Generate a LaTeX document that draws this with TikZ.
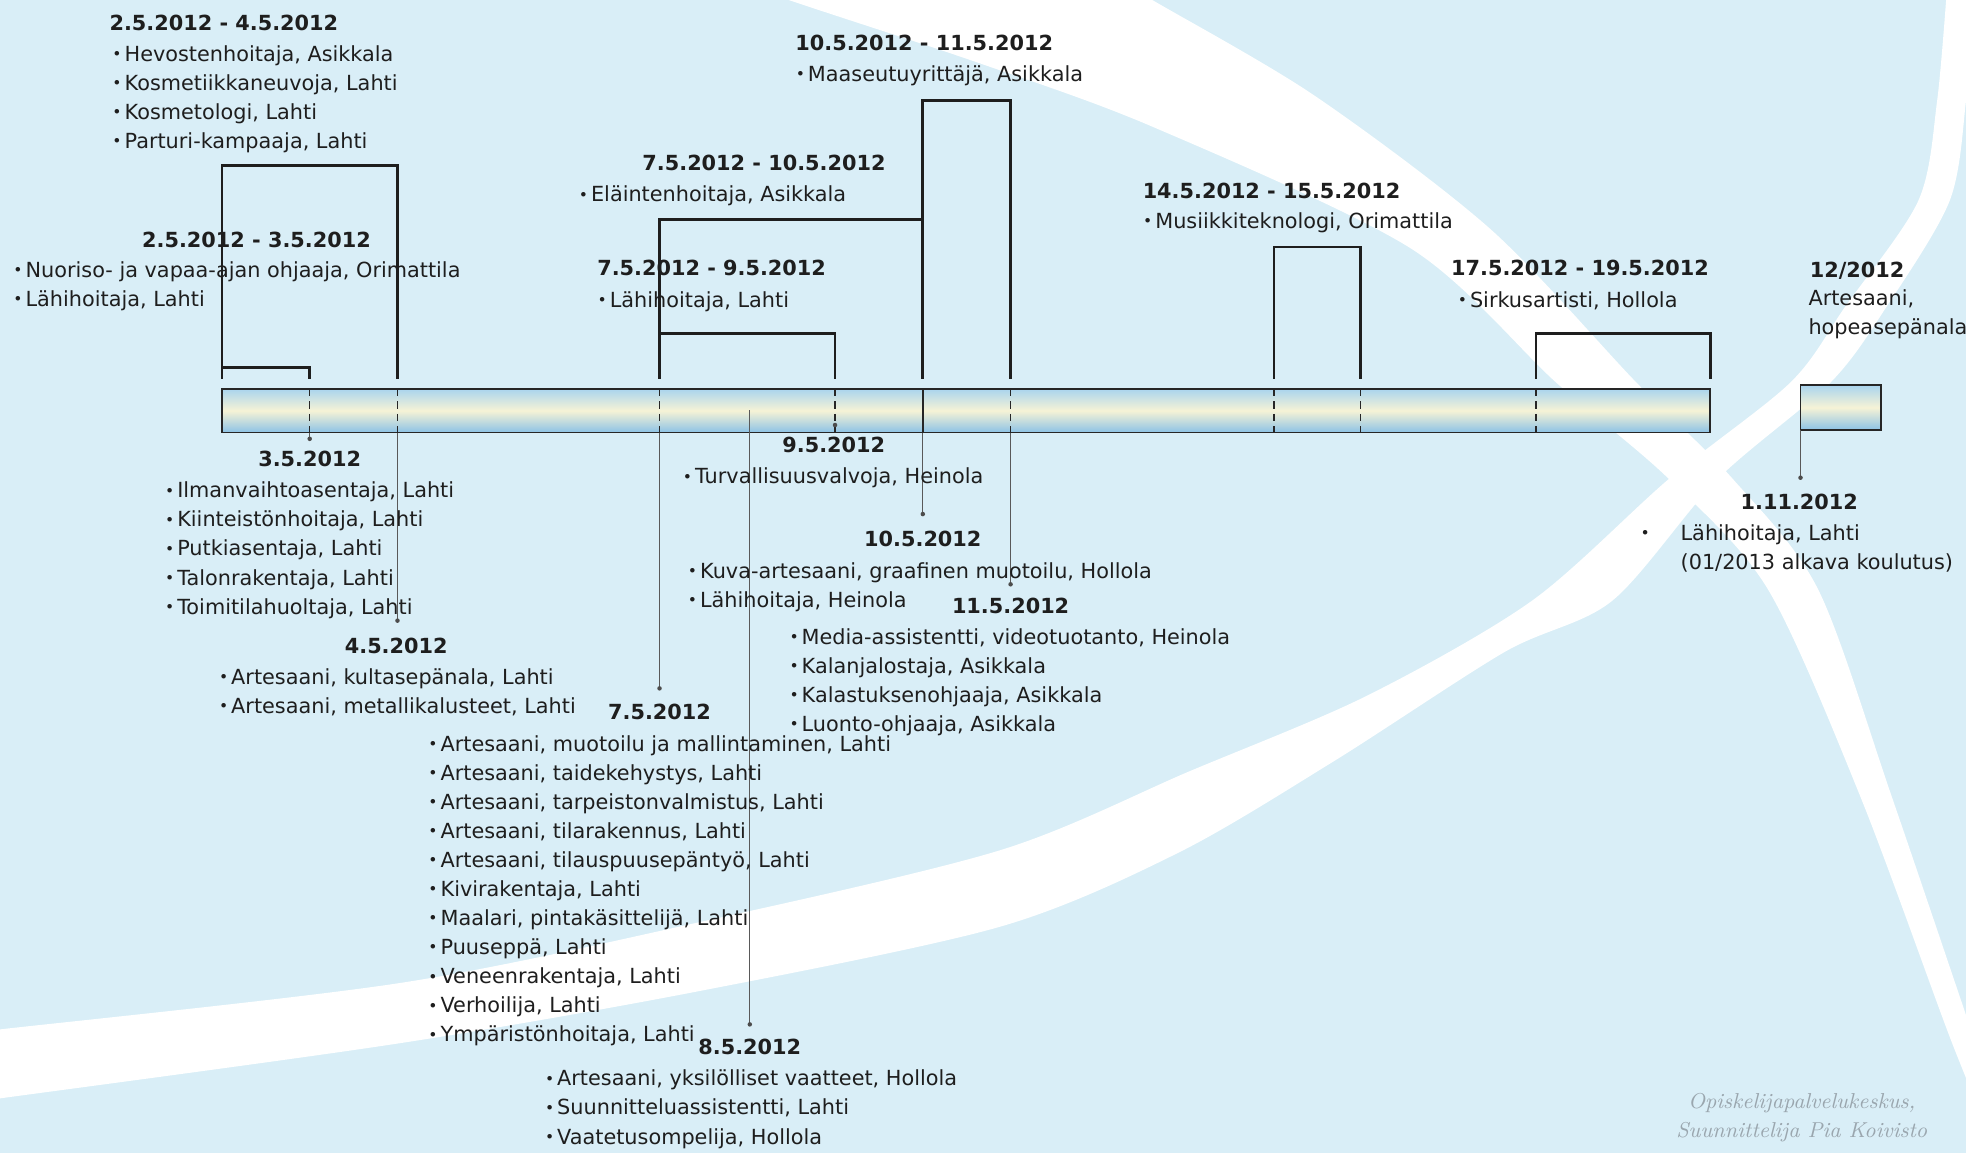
\documentclass[tikz,border=0pt]{standalone}
\usepackage{fontspec}
\newfontfamily\dv{DejaVu Sans}
\definecolor{bgblue}{HTML}{D9EEF7}
\definecolor{bartop}{HTML}{A9D4EE}
\definecolor{barmid}{HTML}{F6F3D6}
\definecolor{barbot}{HTML}{8CC2E6}
\definecolor{ink}{HTML}{1E1E1E}
\definecolor{wmgray}{HTML}{9AA6AE}
\newcommand\bul{\raisebox{0.7pt}{\fontsize{6.2}{6}\selectfont•}}
\newcommand\blist[4]{%
  \foreach \t [count=\i] in {#4} {
    \node[txt] (#1-\i) at (#2,{#3+(\i-1)*23.2}) {\llap{\bul\hspace{1.2pt}}\t};
  }%
}
\begin{document}
\begin{tikzpicture}[x=0.5pt,y=-0.5pt,
  txt/.style={font=\dv\fontsize{8.3}{10}\selectfont, inner sep=0pt, anchor=base west, text=ink},
  hdr/.style={font=\dv\bfseries\fontsize{8.3}{10}\selectfont, inner sep=0pt, anchor=base west, text=ink},
  hdrc/.style={hdr, anchor=base},
  brk/.style={line width=1.1pt, draw=ink},
  conn/.style={line width=0.35pt, draw=black!65},
  tick/.style={line width=0.5pt, draw=black!85, dash pattern=on 3pt off 2pt},
  solidtick/.style={line width=0.6pt, draw=black!85},
  endpt/.style={fill=black!70},
  barbox/.style={draw=black!85, line width=0.7pt, top color=bartop, bottom color=barbot, middle color=barmid, inner sep=0pt, outer sep=0pt},
  wm/.style={font=\itshape\fontsize{8.6}{10}\selectfont, text=wmgray, inner sep=0pt, anchor=base}
  ]
\useasboundingbox (0,0) rectangle (1568,919.6);
\fill[bgblue] (0,0) rectangle (1568,919.6);
% background swooshes
\begin{scope}
\clip (0,0) rectangle (1568,919.6);
\fill[white] plot[smooth] coordinates {(600,-12) (629,0) (780,50) (919,101) (1125,198) (1241,305) (1331,382) (1410,470) (1484,636) (1555,827) (1585,900)}
  -- plot[smooth] coordinates {(1585,860) (1509,636) (1450,470) (1382,382) (1305,305) (1189,183) (1048,76) (919,0) (900,-12)} -- cycle;
\fill[white] plot[smooth] coordinates {(1553,-12) (1545,80) (1530,160) (1472,244) (1428,305) (1331,382) (1222,479) (1090,555) (949,615) (798,678) (560,735) (319,784) (0,821) (-20,823)}
  -- plot[smooth] coordinates {(-20,878) (0,876) (319,832) (560,790) (798,739) (940,680) (1064,607) (1200,520) (1286,479) (1370,382) (1460,305) (1505,244) (1555,160) (1568,80) (1575,-12)} -- cycle;
\end{scope}

% timeline bar and small box
\node[barbox, minimum width=593.5pt, minimum height=17.5pt] (bar) at (770.5,327.5) {};
\node[barbox, minimum width=32pt, minimum height=18pt] (nov) at (1468,325) {};

% ticks inside the bar
\foreach \x/\n in {247/d3,317/d4,526/d7,666/d9,806/d11,1016/d14,1085/d15,1225/d17}
  \draw[tick] (\x,310) coordinate (\n top) -- (\x,345) coordinate (\n bot);
\draw[solidtick] (736,310) coordinate (d10top) -- (736,345) coordinate (d10bot);
\coordinate (d8mid) at (598,327);

% brackets above the bar
\draw[brk] (177,302) |- (247,293) -- (247,302);
\draw[brk] (177,302) |- (317,132) -- (317,302);
\draw[brk] (526,302) |- (666,266) -- (666,302);
\draw[brk] (526,302) |- (736,175);
\draw[brk] (736,302) |- (806,80) -- (806,302);
\draw[brk] (1016,302) |- (1085,197) -- (1085,302);
\draw[brk] (1225,302) |- (1364,266) -- (1364,302);

% connectors below the bar
\coordinate (e3) at (247,350);
\coordinate (e4) at (317,495);
\coordinate (e7) at (526,549);
\coordinate (e8) at (598,817);
\coordinate (e9) at (666,339);
\coordinate (e10) at (736,410);
\coordinate (e11) at (806,466);
\coordinate (e111) at (1436,381);
\draw[conn] (d3bot) -- (e3);
\draw[conn] (d4bot) -- (e4);
\draw[conn] (d7bot) -- (e7);
\draw[conn] (d8mid) -- (e8);
\draw[conn] (d10bot) -- (e10);
\draw[conn] (d11bot) -- (e11);
\draw[conn] (nov.south west) -- (e111);
\foreach \e in {e3,e4,e7,e8,e9,e10,e11,e111}
  \fill[endpt] (\e) circle[radius=0.9pt];

% labels above the bar
\node[hdr] (h1) at (87,24) {2.5.2012 - 4.5.2012};
\blist{h1i}{99}{49}{{Hevostenhoitaja, Asikkala},{Kosmetiikkaneuvoja, Lahti},{Kosmetologi, Lahti},{Parturi-kampaaja, Lahti}}
\node[hdr] (h2) at (113,197) {2.5.2012 - 3.5.2012};
\blist{h2i}{20}{221}{{Nuoriso- ja vapaa-ajan ohjaaja, Orimattila},{Lähihoitaja, Lahti}}
\node[hdr] (h3) at (634,40) {10.5.2012 - 11.5.2012};
\blist{h3i}{644}{65}{{Maaseutuyrittäjä, Asikkala}}
\node[hdr] (h4) at (512,136) {7.5.2012 - 10.5.2012};
\blist{h4i}{471}{161}{{Eläintenhoitaja, Asikkala}}
\node[hdr] (h5) at (476,220) {7.5.2012 - 9.5.2012};
\blist{h5i}{486}{245}{{Lähihoitaja, Lahti}}
\node[hdr] (h6) at (911,158) {14.5.2012 - 15.5.2012};
\blist{h6i}{921}{182}{{Musiikkiteknologi, Orimattila}}
\node[hdr] (h7) at (1157,220) {17.5.2012 - 19.5.2012};
\blist{h7i}{1172}{245}{{Sirkusartisti, Hollola}}
\node[hdr] (h8) at (1443,221) {12/2012};
\node[txt] (h8a) at (1442,244) {Artesaani,};
\node[txt] (h8b) at (1442,267) {hopeasepänala};

% labels below the bar
\node[hdrc] (l3) at (247,372) {3.5.2012};
\blist{l3i}{141}{397}{{Ilmanvaihtoasentaja, Lahti},{Kiinteistönhoitaja, Lahti},{Putkiasentaja, Lahti},{Talonrakentaja, Lahti},{Toimitilahuoltaja, Lahti}}
\node[hdrc] (l4) at (316,521) {4.5.2012};
\blist{l4i}{184}{546}{{Artesaani, kultasepänala, Lahti},{Artesaani, metallikalusteet, Lahti}}
\node[hdrc] (l7) at (526,574) {7.5.2012};
\blist{l7i}{351}{599}{{Artesaani, muotoilu ja mallintaminen, Lahti},{Artesaani, taidekehystys, Lahti},{Artesaani, tarpeistonvalmistus, Lahti},{Artesaani, tilarakennus, Lahti},{Artesaani, tilauspuusepäntyö, Lahti},{Kivirakentaja, Lahti},{Maalari, pintakäsittelijä, Lahti},{Puuseppä, Lahti},{Veneenrakentaja, Lahti},{Verhoilija, Lahti},{Ympäristönhoitaja, Lahti}}
\node[hdrc] (l8) at (598,841) {8.5.2012};
\blist{l8i}{444}{866}{{Artesaani, yksilölliset vaatteet, Hollola},{Suunnitteluassistentti, Lahti},{Vaatetusompelija, Hollola}}
\node[hdrc] (l9) at (665,361) {9.5.2012};
\blist{l9i}{554}{386}{{Turvallisuusvalvoja, Heinola}}
\node[hdrc] (l10) at (736,436) {10.5.2012};
\blist{l10i}{558}{461}{{Kuva-artesaani, graafinen muotoilu, Hollola},{Lähihoitaja, Heinola}}
\node[hdrc] (l11) at (806,489) {11.5.2012};
\blist{l11i}{639}{514}{{Media-assistentti, videotuotanto, Heinola},{Kalanjalostaja, Asikkala},{Kalastuksenohjaaja, Asikkala},{Luonto-ohjaaja, Asikkala}}
\node[hdrc] (l111) at (1435,406) {1.11.2012};
\node[txt] (l111b) at (1308,431) {\bul};
\node[txt] (l111a) at (1340,431) {Lähihoitaja, Lahti};
\node[txt] (l111c) at (1340,454) {(01/2013 alkava koulutus)};

% signature
\node[wm] (wm1) at (1437,884) {Opiskelijapalvelukeskus,};
\node[wm] (wm2) at (1437,907) {Suunnittelija Pia Koivisto};
\end{tikzpicture}
\end{document}
